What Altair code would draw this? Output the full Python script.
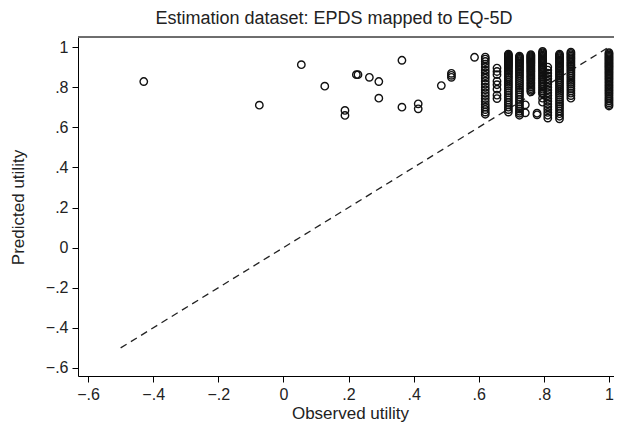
import altair as alt
import pandas as pd

# Scattered (sparse) observations
sparse_x = [-0.429, -0.074, 0.055, 0.127, 0.189, 0.189, 0.224, 0.229, 0.264,
            0.293, 0.293, 0.364, 0.364, 0.414, 0.414, 0.485, 0.516, 0.516, 0.516,
            0.587, 0.743, 0.743, 0.779, 0.779, 0.796, 0.796]
sparse_y = [0.828, 0.710, 0.912, 0.805, 0.684, 0.659, 0.862, 0.862, 0.849,
            0.828, 0.745, 0.934, 0.700, 0.717, 0.692, 0.808, 0.869, 0.859, 0.849,
            0.949, 0.712, 0.672, 0.662, 0.670, 0.725, 0.745]

# Dense columns at discrete observed utility values
col_x = [0.620, 0.656, 0.691, 0.725, 0.760, 0.796, 0.812, 0.848, 0.883, 1.000]
col_y = [
    [0.950, 0.940, 0.928, 0.915, 0.900, 0.885, 0.872, 0.858, 0.845, 0.830, 0.815,
     0.800, 0.787, 0.772, 0.758, 0.743, 0.728, 0.713, 0.700, 0.688, 0.676, 0.665],
    [0.895, 0.878, 0.862, 0.830, 0.812, 0.790, 0.760, 0.743],
    [0.965, 0.960, 0.955, 0.950, 0.945, 0.940, 0.935, 0.930, 0.925, 0.920, 0.915,
     0.910, 0.905, 0.900, 0.893, 0.886, 0.878, 0.870, 0.862, 0.853, 0.845, 0.835,
     0.825, 0.815, 0.805, 0.795, 0.783, 0.772, 0.760, 0.748, 0.736, 0.724, 0.712,
     0.700, 0.688, 0.676],
    [0.955, 0.950, 0.944, 0.938, 0.932, 0.926, 0.920, 0.913, 0.906, 0.899, 0.891,
     0.883, 0.875, 0.866, 0.857, 0.848, 0.838, 0.828, 0.818, 0.808, 0.797, 0.786,
     0.775, 0.763, 0.751, 0.739, 0.727, 0.715, 0.703, 0.691, 0.680, 0.670, 0.660],
    [0.962, 0.957, 0.952, 0.947, 0.942, 0.937, 0.932, 0.927, 0.922, 0.917, 0.911,
     0.905, 0.899, 0.893, 0.887, 0.881, 0.875, 0.868, 0.861, 0.854, 0.847, 0.840,
     0.833, 0.825, 0.817, 0.809, 0.801, 0.793, 0.785, 0.777],
    [0.978, 0.972, 0.966, 0.960, 0.954, 0.948, 0.942, 0.936, 0.930, 0.924, 0.918,
     0.911, 0.904, 0.897, 0.890, 0.883, 0.875, 0.867, 0.859, 0.851, 0.843, 0.835,
     0.826, 0.817, 0.808, 0.799, 0.790, 0.781, 0.772, 0.766],
    [0.900, 0.885, 0.870, 0.856, 0.842, 0.828, 0.814, 0.800, 0.786, 0.772, 0.758,
     0.744, 0.730, 0.716, 0.702, 0.688, 0.674, 0.660, 0.646],
    [0.965, 0.959, 0.953, 0.947, 0.941, 0.935, 0.929, 0.923, 0.916, 0.909, 0.902,
     0.895, 0.887, 0.879, 0.871, 0.863, 0.855, 0.846, 0.837, 0.828, 0.819, 0.810,
     0.800, 0.790, 0.780, 0.770, 0.760, 0.749, 0.738, 0.727, 0.716, 0.705, 0.693,
     0.681, 0.668, 0.655, 0.642],
    [0.975, 0.968, 0.961, 0.954, 0.947, 0.940, 0.932, 0.924, 0.916, 0.908, 0.900,
     0.891, 0.882, 0.873, 0.864, 0.855, 0.845, 0.835, 0.825, 0.815, 0.804, 0.793,
     0.782, 0.770, 0.758, 0.745],
    [0.972, 0.966, 0.960, 0.954, 0.948, 0.942, 0.936, 0.930, 0.924, 0.918, 0.912,
     0.906, 0.900, 0.894, 0.888, 0.881, 0.874, 0.867, 0.860, 0.853, 0.846, 0.839,
     0.831, 0.823, 0.815, 0.807, 0.799, 0.791, 0.783, 0.775, 0.767, 0.758, 0.749,
     0.740, 0.731, 0.722, 0.713, 0.706],
]

# Reference (equality) line endpoints
line_x = [-0.5, 1.0]
line_y = [-0.5, 1.0]

x_ticks = [-0.6, -0.4, -0.2, 0, 0.2, 0.4, 0.6, 0.8, 1]
y_ticks = [-0.6, -0.4, -0.2, 0, 0.2, 0.4, 0.6, 0.8, 1]

rows = [{"obs": x, "pred": y} for x, y in zip(sparse_x, sparse_y)]
for cx, ys in zip(col_x, col_y):
    rows += [{"obs": cx, "pred": y} for y in ys]
points = pd.DataFrame(rows)
line_df = pd.DataFrame({"obs": line_x, "pred": line_y})

FONT = "Liberation Sans"
label_expr = "replace(format(datum.value, '.1~f'), '0.', '.')"

W, H = 536, 339

xscale = alt.Scale(domain=[-0.631, 1.0154], nice=False, zero=False)
yscale = alt.Scale(domain=[-0.64, 1.05], nice=False, zero=False)

xaxis = alt.Axis(values=x_ticks, labelExpr=label_expr, title="Observed utility",
                 grid=False, tickSize=6, tickColor="black", domainColor="black",
                 labelFontSize=16, titleFontSize=17, labelFont=FONT, titleFont=FONT,
                 labelColor="#222", titleColor="#222", titleFontWeight="normal",
                 labelPadding=4, titleX=272, titleY=37, titleBaseline="middle")
yaxis = alt.Axis(values=y_ticks, labelExpr=label_expr, title="Predicted utility",
                 grid=False, tickSize=6, tickColor="black", domainColor="black",
                 labelFontSize=16, titleFontSize=17, labelFont=FONT, titleFont=FONT,
                 labelColor="#222", titleColor="#222", titleFontWeight="normal",
                 labelPadding=4, labelAngle=0, titleAngle=-90,
                 titleX=-60, titleY=170, titleBaseline="middle", titleAlign="center")

line = alt.Chart(line_df).mark_line(color="#222", strokeWidth=1.3,
                                    strokeDash=[7, 5]).encode(
    x=alt.X("obs:Q", scale=xscale, axis=xaxis),
    y=alt.Y("pred:Q", scale=yscale, axis=yaxis),
)

top_frame = alt.Chart(line_df).mark_rule(color="#666", strokeWidth=1.5).encode(
    x=alt.value(0), x2=alt.value(W), y=alt.value(0)
)

pts = alt.Chart(points).mark_point(shape="circle", filled=False, size=55,
                                   strokeWidth=1.4, color="#111", opacity=1).encode(
    x=alt.X("obs:Q", scale=xscale),
    y=alt.Y("pred:Q", scale=yscale),
)

chart = alt.layer(top_frame, line, pts).properties(
    width=W, height=H,
    autosize=alt.AutoSizeParams(type="none"),
    padding={"left": 70, "top": 29, "right": 0, "bottom": 46},
    title=alt.Title("Estimation dataset: EPDS mapped to EQ-5D", fontSize=18,
                    font=FONT, fontWeight="normal", color="#222", dx=-12,
                    offset=-6, baseline="alphabetic"),
).configure_view(strokeWidth=0).configure(background="white")

chart.save("out.html", embed_options={"renderer": "svg", "actions": False})
